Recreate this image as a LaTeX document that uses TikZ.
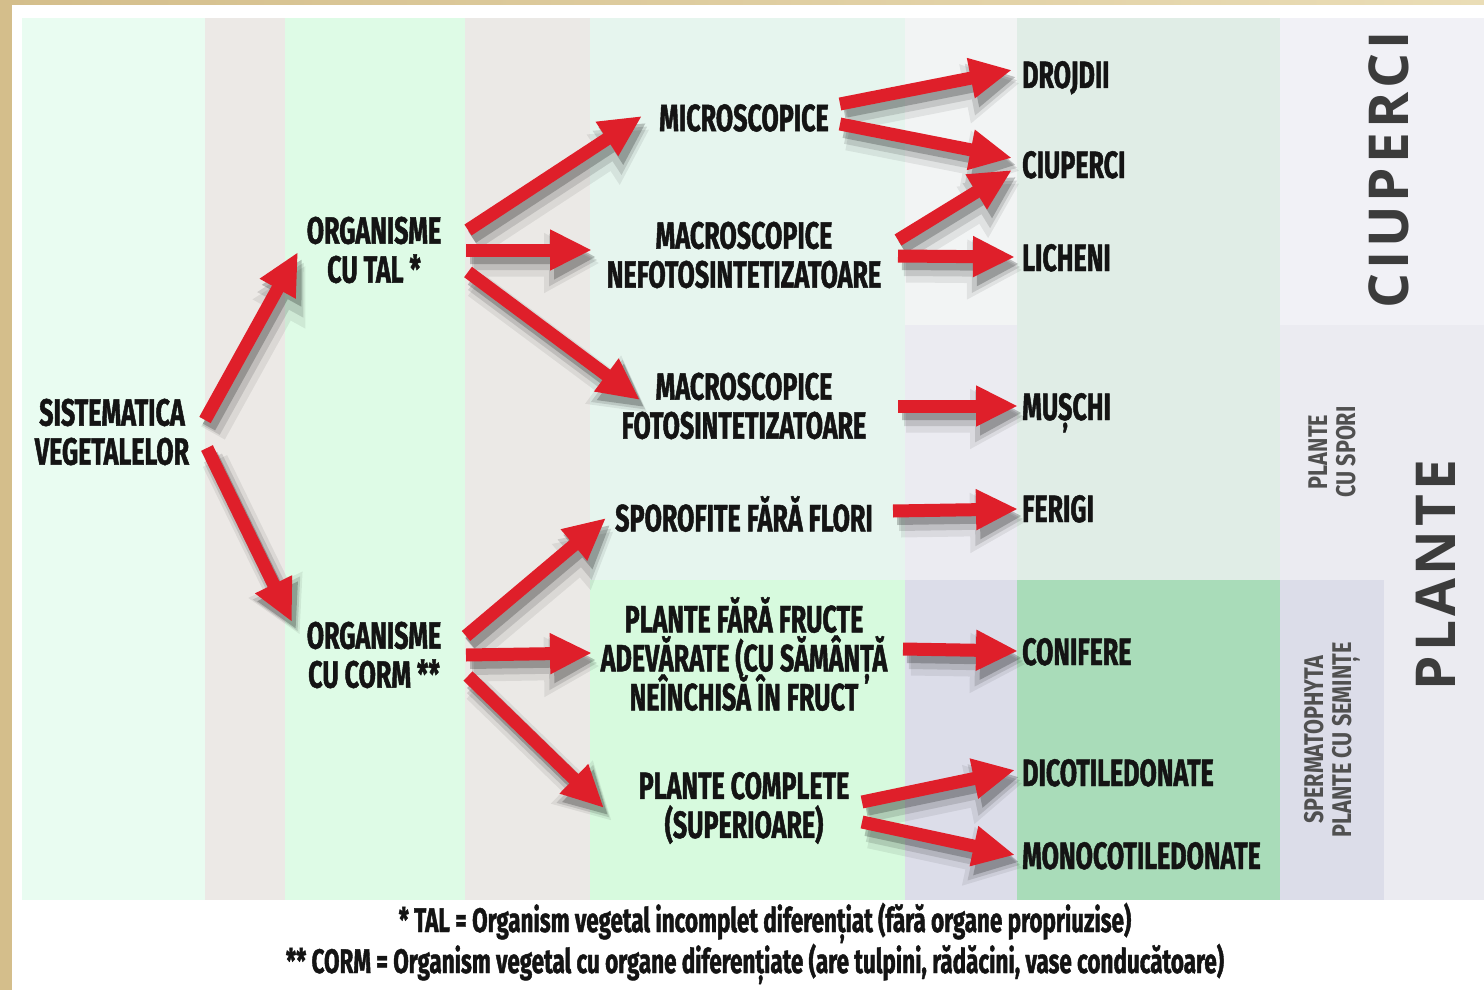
\documentclass[tikz,border=0pt]{standalone}
\usepackage{fontspec}
\setmainfont{Fira Sans}
\newfontfamily\condfont[FakeStretch=0.66,FakeBold=1.2]{Fira Sans}
\newfontfamily\smallcondfont[FakeStretch=0.8]{Fira Sans}
\newfontfamily\spacedfont[LetterSpace=7]{Open Sans}
\newcommand\lblfont{\condfont\bfseries\fontsize{38}{39}\selectfont\lineskiplimit=-50pt\relax}
\usetikzlibrary{arrows.meta}
\definecolor{tanA}{HTML}{D4BE8B}
\definecolor{tanB}{HTML}{EADDB6}
\definecolor{colA}{HTML}{E9FCF1}
\definecolor{colB}{HTML}{ECE9E6}
\definecolor{colC}{HTML}{DEFBE6}
\definecolor{colD}{HTML}{EBE9E6}
\definecolor{colEt}{HTML}{E6F5EE}
\definecolor{colEb}{HTML}{D7FADE}
\definecolor{colFt}{HTML}{F2F4F4}
\definecolor{colFm}{HTML}{EBEBF1}
\definecolor{colFb}{HTML}{DCDDE9}
\definecolor{colGt}{HTML}{E0EDE6}
\definecolor{colGb}{HTML}{A9DCB9}
\definecolor{colHt}{HTML}{F1F1F6}
\definecolor{colHm}{HTML}{EBEBF1}
\definecolor{colHb}{HTML}{DCDDE9}
\definecolor{arrred}{HTML}{DF1F2A}
\definecolor{txtblack}{HTML}{141414}
\definecolor{vgray}{HTML}{3C3C3C}
\definecolor{smallgray}{HTML}{505050}
\tikzset{
  lbl/.style={font=\lblfont, align=center, inner sep=0pt, text=txtblack},
  leaf/.style={lbl, anchor=base west},
  arr/.style={draw=arrred, line width=13pt, -{Triangle[length=42pt,width=38pt]}},
  arrsh/.style 2 args={draw=black, line width=#1, -{Triangle[length=#2,width=#2]}},
  vlabel/.style={rotate=90, font=\spacedfont\bfseries\fontsize{55}{60}\selectfont, text=vgray, inner sep=0pt},
  slabel/.style={rotate=90, font=\smallcondfont\bfseries\fontsize{27}{28}\selectfont, text=smallgray, align=center, inner sep=0pt},
  foot/.style={font=\condfont\bfseries\fontsize{34}{36}\selectfont, text=txtblack, anchor=base, inner sep=0pt}
}
\newcommand\drawarrows[1]{%
\draw[#1] ([shift={(93,-12)}]sist.center) -- ([shift={(-76,2)}]tal.center);
\draw[#1] ([shift={(95,16)}]sist.center) -- ([shift={(-82,-33)}]corm.center);
\draw[#1] ([shift={(94,-20)}]tal.center) -- ([shift={(-102,-2)}]micro.center);
\draw[#1] ([shift={(92,0)}]tal.center) -- ([shift={(-152,-5)}]mnef.center);
\draw[#1] ([shift={(94,22)}]tal.center) -- ([shift={(-104,-6)}]mfot.center);
\draw[#1] ([shift={(96,-14)}]micro.center) -- ([shift={(-10,-18)}]drojdii.base west);
\draw[#1] ([shift={(96,6)}]micro.center) -- ([shift={(-10,-20)}]ciup.base west);
\draw[#1] ([shift={(154,-15)}]mnef.center) -- ([shift={(-10,-8)}]ciup.base west);
\draw[#1] ([shift={(154,1)}]mnef.center) -- ([shift={(-7,-14)}]lich.base west);
\draw[#1] ([shift={(154,0)}]mfot.center) -- ([shift={(-4,-14)}]musch.base west);
\draw[#1] ([shift={(149,-3)}]spor.center) -- ([shift={(-4,-13)}]ferigi.base west);
\draw[#1] ([shift={(92,-19)}]corm.center) -- ([shift={(-138,4)}]spor.center);
\draw[#1] ([shift={(92,0)}]corm.center) -- ([shift={(-152,-1)}]pff.center);
\draw[#1] ([shift={(94,21)}]corm.center) -- ([shift={(-140,0)}]pcomp.center);
\draw[#1] ([shift={(159,-5)}]pff.center) -- ([shift={(-4,-14)}]conif.base west);
\draw[#1] ([shift={(118,-6)}]pcomp.center) -- ([shift={(-7,-16)}]dicot.base west);
\draw[#1] ([shift={(118,14)}]pcomp.center) -- ([shift={(-7,-14)}]mono.base west);
}
\begin{document}
\begin{tikzpicture}[x=1pt,y=-1pt]
\useasboundingbox (0,0) rectangle (1484,990);
% background
\fill[white] (0,0) rectangle (1484,990);
\shade[left color=tanA, right color=tanB] (0,0) rectangle (1484,5);
\fill[tanA] (0,0) rectangle (12,990);
\fill[colA] (22,18) rectangle (205,900);
\fill[colB] (205,18) rectangle (285,900);
\fill[colC] (285,18) rectangle (465,900);
\fill[colD] (465,18) rectangle (590,900);
\fill[colEt] (590,18) rectangle (905,580);
\fill[colEb] (590,580) rectangle (905,900);
\fill[colFt] (905,18) rectangle (1017,325);
\fill[colFm] (905,325) rectangle (1017,580);
\fill[colFb] (905,580) rectangle (1017,900);
\fill[colGt] (1017,18) rectangle (1280,580);
\fill[colGb] (1017,580) rectangle (1280,900);
\fill[colHt] (1280,18) rectangle (1484,325);
\fill[colHm] (1280,325) rectangle (1484,900);
\fill[colHb] (1280,580) rectangle (1384,900);

% labels
\node[lbl] (sist) at (112,432) {SISTEMATICA\\VEGETALELOR};
\node[lbl] (tal) at (374,250) {ORGANISME\\CU TAL *};
\node[lbl] (corm) at (374,655) {ORGANISME\\CU CORM **};
\node[lbl] (micro) at (744,118) {MICROSCOPICE};
\node[lbl] (mnef) at (744,255) {MACROSCOPICE\\NEFOTOSINTETIZATOARE};
\node[lbl] (mfot) at (744,406) {MACROSCOPICE\\FOTOSINTETIZATOARE};
\node[lbl] (spor) at (744,514) {SPOROFITE FĂRĂ FLORI};
\node[lbl] (pff) at (744,654) {PLANTE FĂRĂ FRUCTE\\ADEVĂRATE (CU SĂMÂNȚĂ\\NEÎNCHISĂ ÎN FRUCT};
\node[lbl] (pcomp) at (744,808) {PLANTE COMPLETE\\(SUPERIOARE)};
\node[leaf] (drojdii) at (1022,88) {DROJDII};
\node[leaf] (ciup) at (1022,178) {CIUPERCI};
\node[leaf] (lich) at (1022,271) {LICHENI};
\node[leaf] (musch) at (1022,420) {MUȘCHI};
\node[leaf] (ferigi) at (1022,522) {FERIGI};
\node[leaf] (conif) at (1022,665) {CONIFERE};
\node[leaf] (dicot) at (1022,786) {DICOTILEDONATE};
\node[leaf] (mono) at (1022,869) {MONOCOTILEDONATE};

% side labels
\node[vlabel] (vciup) at (1389,170) {CIUPERCI};
\node[vlabel] (vplante) at (1436,575) {PLANTE};
\node[slabel] (spori) at (1332,452) {PLANTE\\CU SPORI};
\node[slabel] (sperm) at (1332,740) {SPERMATOPHYTA\\PLANTE CU SEMINȚE};

% footnotes
\node[foot] (fn1) at (765,932) {* TAL = Organism vegetal incomplet diferențiat (fără organe propriuzise)};
\node[foot] (fn2) at (755,973) {** CORM = Organism vegetal cu organe diferențiate (are tulpini, rădăcini, vase conducătoare)};

% arrows with soft shadow
\begin{scope}[transparency group, opacity=0.07]
\begin{scope}[transform canvas={xshift=8pt,yshift=-13pt}]
\drawarrows{arrsh={27pt}{56pt}}
\end{scope}
\end{scope}
\begin{scope}[transparency group, opacity=0.12]
\begin{scope}[transform canvas={xshift=6pt,yshift=-10pt}]
\drawarrows{arrsh={20pt}{49pt}}
\end{scope}
\end{scope}
\begin{scope}[transparency group, opacity=0.22]
\begin{scope}[transform canvas={xshift=4pt,yshift=-7pt}]
\drawarrows{arrsh={14pt}{42pt}}
\end{scope}
\end{scope}
\drawarrows{arr}
\end{tikzpicture}
\end{document}
